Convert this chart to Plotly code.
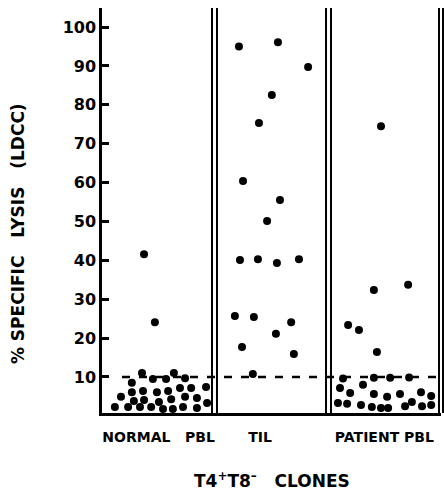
import plotly.graph_objects as go

# ---- data (x = horizontal position within the 0-100 strip, y = % specific lysis) ----
normal_x = [12.4, 15.6, 11.8, 21.2, 15.0, 18.9, 24.5, 8.8, 8.8, 12.1, 16.2, 19.5, 23.0, 26.3,
            30.7, 5.6, 9.4, 12.4, 16.8, 20.4, 24.5, 28.0, 31.0, 3.8, 7.7, 11.2, 14.5, 18.0,
            20.9, 23.9, 28.0]
normal_y = [41.6, 24.1, 11.0, 11.0, 9.5, 9.5, 9.7, 8.5, 6.1, 6.4, 6.1, 6.4, 7.2, 7.2,
            7.4, 4.9, 3.8, 4.1, 3.6, 4.3, 4.9, 4.6, 3.3, 2.3, 2.3, 2.3, 2.3, 1.8,
            1.8, 2.3, 2.0]

til_x = [40.4, 51.9, 60.8, 50.1, 46.3, 41.6, 52.5, 48.7, 40.7, 46.0, 51.6, 58.1,
         39.2, 44.8, 55.8, 51.3, 41.3, 56.6, 44.5]
til_y = [95.0, 96.1, 89.7, 82.5, 75.3, 60.4, 55.5, 50.1, 40.1, 40.3, 39.3, 40.3,
         25.7, 25.4, 24.1, 21.1, 17.7, 15.9, 10.8]

patient_x = [82.3, 90.3, 80.2, 72.6, 75.8, 81.1, 71.1, 80.2, 85.0, 90.6, 77.0, 70.2,
             73.2, 80.2, 84.1, 87.9, 94.1, 97.1, 69.6, 72.3, 76.4, 79.6, 82.3, 84.4,
             89.4, 91.4, 94.4, 97.1]
patient_y = [74.5, 33.7, 32.4, 23.4, 22.1, 16.4, 9.6, 9.8, 9.8, 9.9, 8.0, 7.2,
             5.9, 5.6, 4.9, 5.6, 6.1, 5.1, 3.3, 3.1, 2.8, 2.3, 2.0, 2.0,
             2.5, 3.6, 2.5, 2.8]

group_centers = [16.7, 46.6, 83.3]
group_labels = ["NORMAL\u00a0\u00a0\u00a0PBL", "TIL", "PATIENT\u00a0PBL"]
y_ticks = [10, 20, 30, 40, 50, 60, 70, 80, 90, 100]
threshold = 10

FONT = "DejaVu Sans"

fig = go.Figure()
for xs, ys in [(normal_x, normal_y), (til_x, til_y), (patient_x, patient_y)]:
    fig.add_trace(go.Scatter(x=xs, y=ys, mode="markers",
                             marker=dict(color="black", size=8, line=dict(width=0)),
                             showlegend=False, hoverinfo="skip"))

# dashed 10% line
fig.add_shape(type="line", xref="paper", yref="y", x0=0.059, x1=1.0, y0=threshold, y1=threshold,
              line=dict(color="black", width=2.5, dash="8px,9px"), layer="below")

# double separators
for xp in [0.3245, 0.3392, 0.6608, 0.6755, 0.9941, 1.0059]:
    fig.add_shape(type="line", xref="paper", yref="paper", x0=xp, x1=xp, y0=0, y1=1,
                  line=dict(color="black", width=2))

fig.add_annotation(text="%\u00a0SPECIFIC\u00a0\u00a0\u00a0LYSIS\u00a0\u00a0\u00a0(LDCC)",
                   xref="paper", yref="paper", x=-0.248, y=0.444, textangle=-90,
                   xanchor="center", yanchor="middle",
                   showarrow=False, font=dict(family=FONT, size=17, color="black", weight="bold"))
fig.add_annotation(text="T4<sup>+</sup>T8<sup>\u2013</sup>\u00a0\u00a0\u00a0CLONES",
                   xref="paper", yref="paper", x=0.5, y=-0.165, xanchor="center", yanchor="middle",
                   showarrow=False, font=dict(family=FONT, size=17, color="black", weight="bold"))

fig.update_layout(
    width=444, height=493,
    margin=dict(l=102, r=3, t=8, b=80),
    paper_bgcolor="white", plot_bgcolor="white",
    xaxis=dict(range=[0, 100], showgrid=False, zeroline=False, showline=True,
               linecolor="black", linewidth=2.5, ticks="",
               tickvals=group_centers, ticktext=group_labels, ticklabelstandoff=9,
               tickfont=dict(family=FONT, size=14, color="black", weight="bold")),
    yaxis=dict(range=[0.74, 104.9], showgrid=False, zeroline=False, showline=True,
               linecolor="black", linewidth=2.5, ticks="inside", ticklen=7, tickwidth=2.5,
               tickcolor="black", tickvals=y_ticks,
               tickfont=dict(family=FONT, size=16, color="black", weight="bold")),
)

fig.write_html("out.html", config={"displayModeBar": False},
               post_script="document.body.style.margin='0';"
                           "document.documentElement.style.overflow='hidden';")
